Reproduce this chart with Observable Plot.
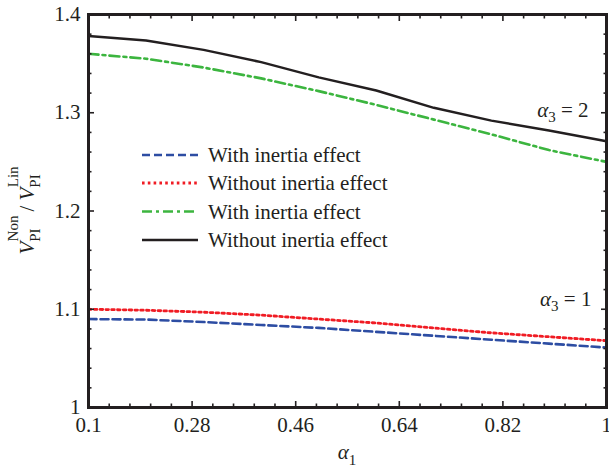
<!DOCTYPE html>
<html><head><meta charset="utf-8">
<script src="https://cdn.jsdelivr.net/npm/d3@7"></script>
<script src="https://cdn.jsdelivr.net/npm/@observablehq/plot@0.6"></script>
<style>body{margin:0;background:#fff}</style>
</head><body><div id="chart"></div>
<script>
// ---- data ----
const alpha1 = [0.1, 0.2, 0.3, 0.4, 0.5, 0.6, 0.7, 0.8, 0.9, 1.0];
const withInertiaA3_1    = [1.090, 1.0895, 1.087, 1.084, 1.081, 1.077, 1.073, 1.069, 1.065, 1.061];
const withoutInertiaA3_1 = [1.100, 1.099, 1.097, 1.094, 1.090, 1.086, 1.081, 1.076, 1.072, 1.068];
const withInertiaA3_2    = [1.360, 1.355, 1.346, 1.335, 1.322, 1.308, 1.293, 1.278, 1.262, 1.250];
const withoutInertiaA3_2 = [1.378, 1.3735, 1.364, 1.3515, 1.336, 1.3226, 1.305, 1.292, 1.282, 1.271];
const seriesNames = ["With inertia effect", "Without inertia effect", "With inertia effect", "Without inertia effect"];
const xTicks = [0.1, 0.28, 0.46, 0.64, 0.82, 1];
const yTicks = [1, 1.1, 1.2, 1.3, 1.4];
const annotationSub = ["2", "1"];
const annotationX = [0.925, 0.93];
const annotationY = [1.302, 1.11];

// ---- styles ----
const seriesValues = [withInertiaA3_1, withoutInertiaA3_1, withInertiaA3_2, withoutInertiaA3_2];
const seriesColors = ["#2d4da3", "#f01c24", "#3cb53f", "#231f20"];
const seriesDash = ["8,4", "2.6,3.2", "10,4,3,4", null];
const seriesWidth = [2.6, 2.8, 2.6, 2.5];

const rows = [];
seriesValues.forEach((vals, k) => vals.forEach((v, i) => rows.push({k, x: alpha1[i], y: v})));

function minors(major, n) {
  const out = [];
  for (let i = 0; i < major.length - 1; i++) {
    const step = (major[i + 1] - major[i]) / (n + 1);
    for (let j = 1; j <= n; j++) out.push(major[i] + j * step);
  }
  return out;
}
const xMinor = minors(xTicks, 4);
const yMinor = minors(yTicks, 4);

const ink = "#231f20";
const tickOpts = {tickFormat: () => "", stroke: ink, strokeWidth: 1.6, label: null};

const plot = Plot.plot({
  width: 609, height: 468,
  marginLeft: 88, marginRight: 3, marginTop: 14, marginBottom: 61,
  style: {fontFamily: "'Liberation Serif','Times New Roman',serif", fontSize: "21px", color: ink, background: "#fff"},
  x: {domain: [0.1, 1], label: null, axis: null},
  y: {domain: [1, 1.4], label: null, axis: null},
  marks: [
    ...seriesValues.map((_, k) => Plot.line(rows.filter(r => r.k === k), {
      x: "x", y: "y", stroke: seriesColors[k], strokeWidth: seriesWidth[k], strokeDasharray: seriesDash[k]
    })),
    Plot.frame({stroke: ink, strokeWidth: 3}),
    Plot.axisX(xTicks, {anchor: "bottom", tickSize: 0, tickPadding: 10, tickFormat: d => String(d), label: null, fill: ink}),
    Plot.axisY(yTicks, {anchor: "left", tickSize: 0, tickPadding: 8, tickFormat: d => String(d), label: null, fill: ink}),
    Plot.axisX(xTicks, {anchor: "bottom", tickSize: -6, ...tickOpts}),
    Plot.axisX(xMinor, {anchor: "bottom", tickSize: -3.5, ...tickOpts}),
    Plot.axisX(xTicks, {anchor: "top", tickSize: -6, ...tickOpts}),
    Plot.axisX(xMinor, {anchor: "top", tickSize: -3.5, ...tickOpts}),
    Plot.axisY(yTicks, {anchor: "left", tickSize: -6, ...tickOpts}),
    Plot.axisY(yMinor, {anchor: "left", tickSize: -3.5, ...tickOpts}),
    Plot.axisY(yTicks, {anchor: "right", tickSize: -6, ...tickOpts}),
    Plot.axisY(yMinor, {anchor: "right", tickSize: -3.5, ...tickOpts})
  ]
});
document.getElementById("chart").appendChild(plot);

// ---- text with sub/superscripts ----
const svg = d3.select(plot);
const sx = plot.scale("x"), sy = plot.scale("y");
const font = "'Liberation Serif','Times New Roman',serif";

// x label
const xl = svg.append("text").attr("x", 347).attr("y", 459).attr("text-anchor", "middle")
  .attr("font-family", font).attr("font-size", 21).attr("fill", ink);
xl.append("tspan").attr("font-style", "italic").text("α");
xl.append("tspan").attr("font-size", 15).attr("dy", 6).text("1");

// y label
const yl = svg.append("text").attr("transform", `translate(34,${(14 + 407) / 2}) rotate(-90)`)
  .attr("text-anchor", "middle").attr("font-family", font).attr("font-size", 21).attr("fill", ink);
yl.append("tspan").attr("font-style", "italic").text("V");
yl.append("tspan").attr("font-size", 15).attr("dy", 6).text("PI");
yl.append("tspan").attr("font-size", 15).attr("dx", -13).attr("dy", -22).text("Non");
yl.append("tspan").attr("dy", 16).attr("dx", 4).text("/ ");
yl.append("tspan").attr("font-style", "italic").text("V");
yl.append("tspan").attr("font-size", 15).attr("dy", 6).text("PI");
yl.append("tspan").attr("font-size", 15).attr("dx", -13).attr("dy", -22).text("Lin");

// annotations
annotationSub.forEach((s, i) => {
  const t = svg.append("text").attr("x", sx.apply(annotationX[i])).attr("y", sy.apply(annotationY[i]) + 7)
    .attr("text-anchor", "middle").attr("font-family", font).attr("font-size", 21).attr("fill", ink);
  t.append("tspan").attr("font-style", "italic").text("α");
  t.append("tspan").attr("font-size", 15).attr("dy", 5).text("3");
  t.append("tspan").attr("dy", -5).text(" = " + s);
});

// legend
const legY = [155, 183, 211.5, 240];
seriesNames.forEach((name, k) => {
  svg.append("line").attr("x1", 142).attr("x2", 198).attr("y1", legY[k]).attr("y2", legY[k])
    .attr("stroke", seriesColors[k]).attr("stroke-width", seriesWidth[k])
    .attr("stroke-dasharray", seriesDash[k]);
  svg.append("text").attr("x", 208).attr("y", legY[k] + 7).attr("text-anchor", "start")
    .attr("font-family", font).attr("font-size", 21).attr("fill", ink).text(name);
});
</script>
</body></html>
